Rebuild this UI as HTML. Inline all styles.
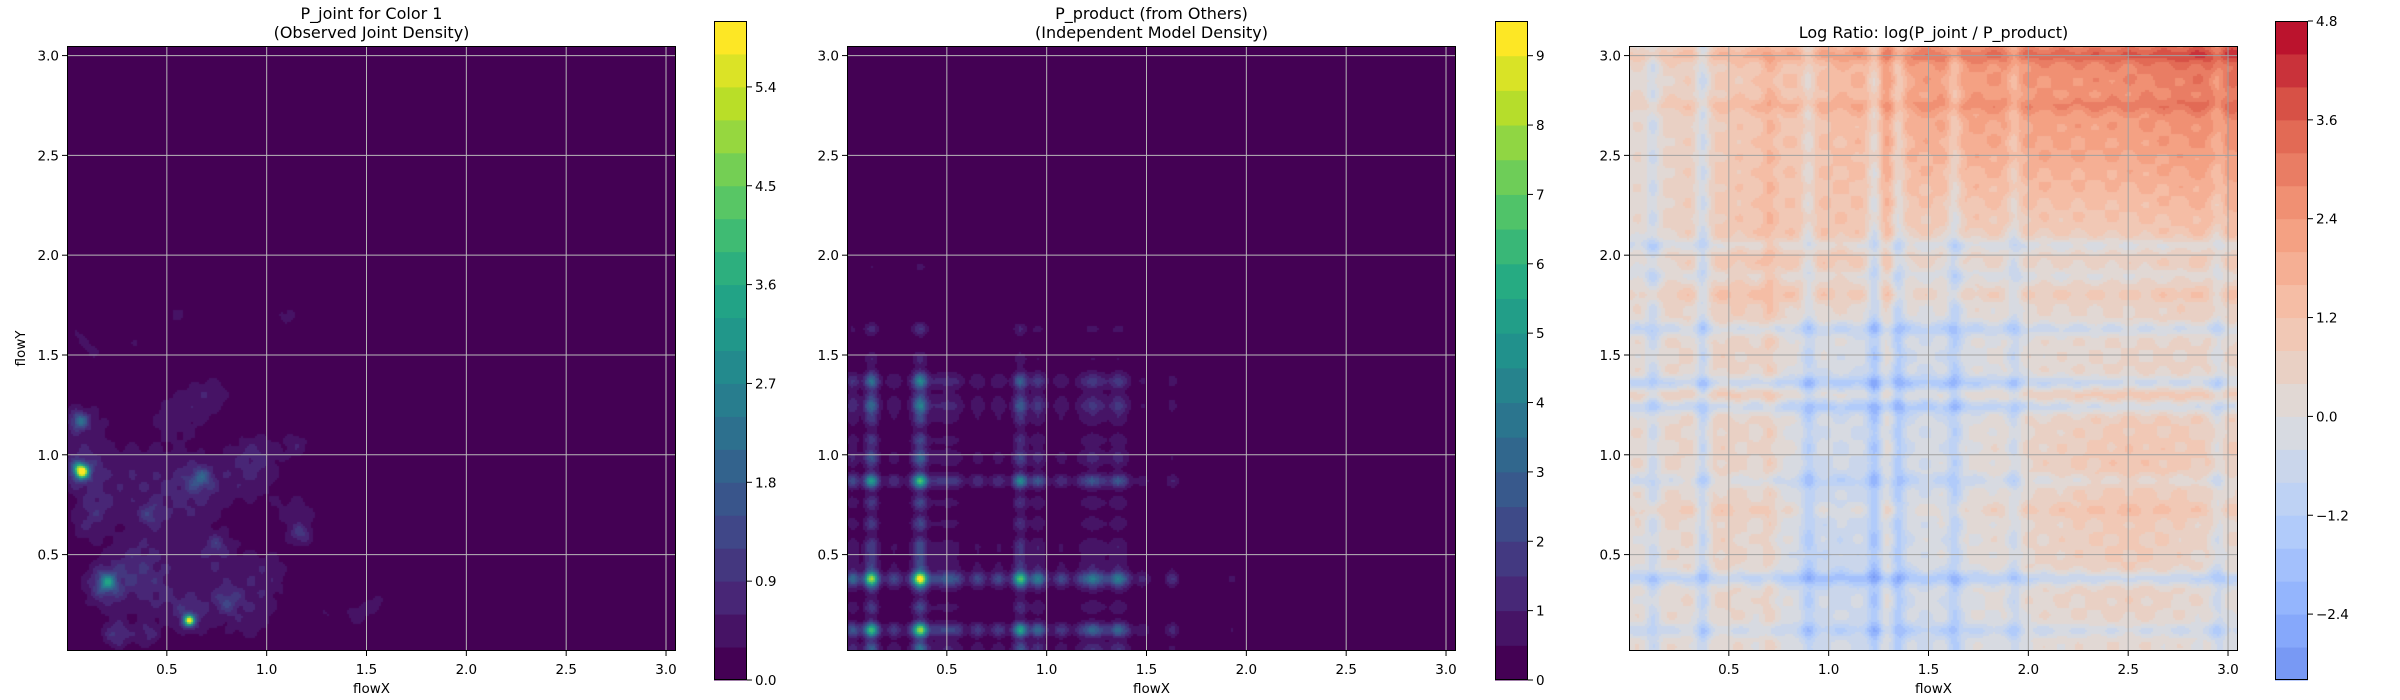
<!DOCTYPE html>
<html><head><meta charset="utf-8">
<style>
html,body{margin:0;padding:0;background:#fff;width:2400px;height:700px;overflow:hidden}
#wrap{position:relative;width:2400px;height:700px}
canvas{position:absolute}
svg{position:absolute;left:0;top:0}
text{font-family:"DejaVu Sans","Liberation Sans",sans-serif;fill:#000}
</style></head><body>
<div id="wrap">
<canvas id="c1"></canvas>
<canvas id="c2"></canvas>
<canvas id="c3"></canvas>
<svg id="ov" width="2400" height="700"></svg>
</div>
<script>
// ---------- data ----------
const xTicks=[0.5,1.0,1.5,2.0,2.5,3.0];
const yTicks=[0.5,1.0,1.5,2.0,2.5,3.0];
const tickLabels=["0.5","1.0","1.5","2.0","2.5","3.0"];
// panel 1 joint density blobs: x, y, amplitude, sigma
const jointBlobX=[0.07,0.07,0.06,0.08,0.20,0.20,0.61,0.62,0.67,0.62,0.25,0.40,1.15,1.17,1.15,0.42,0.30,0.80,0.75,0.75,1.45,1.55,1.30,0.55,0.90,0.90,0.10,0.12,0.35,0.55,1.10,0.35,0.05,1.00,0.45,0.72,0.15,0.95,0.50];
const jointBlobY=[0.92,0.92,1.17,1.15,0.36,0.34,0.17,0.20,0.88,0.85,0.10,0.10,1.05,0.60,0.70,0.70,0.90,0.27,0.45,0.55,0.20,0.25,0.20,1.20,0.90,0.20,0.65,1.52,1.55,1.70,1.70,0.45,1.60,0.40,0.30,1.30,0.75,1.00,0.60];
const jointBlobAmp=[5.4,1.0,1.6,0.5,2.0,0.8,4.3,0.8,1.2,0.6,0.9,0.7,0.5,0.8,0.4,0.7,0.45,0.8,0.4,0.6,0.45,0.4,0.3,0.45,0.45,0.5,0.45,0.35,0.3,0.35,0.4,0.5,0.3,0.45,0.5,0.45,0.45,0.45,0.35];
const jointBlobSig=[0.025,0.07,0.03,0.09,0.035,0.09,0.02,0.07,0.04,0.11,0.05,0.045,0.05,0.035,0.10,0.04,0.14,0.045,0.11,0.035,0.045,0.045,0.045,0.10,0.11,0.11,0.07,0.045,0.045,0.045,0.045,0.09,0.04,0.09,0.09,0.08,0.06,0.08,0.20];
const jointLevels=[0,0.3,0.6,0.9,1.2,1.5,1.8,2.1,2.4,2.7,3.0,3.3,3.6,3.9,4.2,4.5,4.8,5.1,5.4,5.7,6.0];
const jointCbTicks=[0,0.9,1.8,2.7,3.6,4.5,5.4];
const jointCbLabels=["0.0","0.9","1.8","2.7","3.6","4.5","5.4"];
// panel 2 marginals (spikes): position, amplitude
const margXPos=[0.03,0.12,0.37,0.50,0.87,0.95,1.23,1.35,1.63,1.93];
const margXAmp=[0.4,1.9,2.7,0.6,1.5,0.7,1.0,0.9,0.5,0.2];
const margYPos=[0.03,0.12,0.38,0.50,0.87,1.00,1.24,1.36,1.63,1.94];
const margYAmp=[0.5,1.9,2.8,0.4,1.4,0.5,1.0,0.9,0.5,0.2];
const productLevels=[0,0.5,1,1.5,2,2.5,3,3.5,4,4.5,5,5.5,6,6.5,7,7.5,8,8.5,9,9.5];
const productCbTicks=[0,1,2,3,4,5,6,7,8,9];
const productCbLabels=["0","1","2","3","4","5","6","7","8","9"];
// panel 3 log ratio: coarse base grid (rows y=0..3 step .5, cols x=0..3 step .5)
const ratioBase=[
 [0.2,0.3,-0.3,-0.4,0.1,0.3,0.0],
 [0.1,0.6,-0.7,-0.2,0.4,0.9,0.3],
 [0.3,0.6,-0.4,-0.3,0.5,1.1,0.8],
 [0.2,0.6,-0.2,-0.4,0.2,0.4,0.5],
 [0.2,1.0,1.1,0.5,0.5,0.6,1.0],
 [0.2,1.0,1.2,1.7,1.9,2.0,2.4],
 [0.3,0.9,1.4,2.4,2.6,2.9,3.5]];
const ratioColPos=[0.12,0.37,0.90,1.23,1.35,1.29,1.63,1.93,2.95,0.70];
const ratioColAmp=[-0.8,-1.2,-0.9,-1.2,-1.0,0.5,-1.0,-0.8,-0.7,0.5];
const ratioRowPos=[0.12,0.38,0.87,1.24,1.36,1.63,2.05,1.90,2.75,3.00,1.80,0.72,1.30];
const ratioRowAmp=[-0.7,-1.2,-0.6,-1.0,-1.1,-0.9,-0.8,-0.5,0.5,0.7,0.4,0.4,0.4];
const ratioLevels=[-3.2,-2.8,-2.4,-2.0,-1.6,-1.2,-0.8,-0.4,0.0,0.4,0.8,1.2,1.6,2.0,2.4,2.8,3.2,3.6,4.0,4.4,4.8];
const ratioCbTicks=[-2.4,-1.2,0,1.2,2.4,3.6,4.8];
const ratioCbLabels=["\u22122.4","\u22121.2","0.0","1.2","2.4","3.6","4.8"];

// ---------- layout ----------
const PW=609,PH=605,TOP=46,CBT=21,CBB=680,CBW=33;
const panels=[
 {id:'c1',left:67,cb:714,t1:"P_joint for Color 1",t2:"(Observed Joint Density)",ylab:true},
 {id:'c2',left:847,cb:1495,t1:"P_product (from Others)",t2:"(Independent Model Density)",ylab:false},
 {id:'c3',left:1629,cb:2275,t1:"Log Ratio: log(P_joint / P_product)",t2:null,ylab:false}];
const XD=[0.0,3.05],YD=[0.017,3.048];
function sx(p,v){return p.left+(v-XD[0])/(XD[1]-XD[0])*PW;}
function sy(v){return TOP+PH-(v-YD[0])/(YD[1]-YD[0])*PH;}

// ---------- colormaps ----------
const VIR=[[68,1,84],[72,36,117],[65,68,135],[53,95,141],[42,120,142],[33,145,140],[34,168,132],[68,191,112],[122,209,81],[189,223,38],[253,231,37]];
const CW=[[58,76,192],[98,130,234],[141,176,254],[184,208,249],[221,220,220],[245,196,173],[244,154,123],[222,96,77],[180,4,38]];
function cmap(st,t){t=Math.max(0,Math.min(1,t));const n=st.length-1,f=t*n,i=Math.min(n-1,Math.floor(f)),r=f-i;
 return st[i].map((c,k)=>Math.round(c+(st[i+1][k]-c)*r));}
function bandIndex(levels,v){let k=0;for(let i=1;i<levels.length-1;i++){if(v>=levels[i])k=i;}return k;}
function rgb(c){return 'rgb('+c.join(',')+')';}
const jointColors=jointLevels.slice(0,-1).map((l,i,a)=>cmap(VIR,i/(a.length-1)));
const productColors=productLevels.slice(0,-1).map((l,i,a)=>cmap(VIR,i/(a.length-1)));
const ratioColors=ratioLevels.slice(0,-1).map((l,i)=>cmap(CW,((l+ratioLevels[i+1])/2+4.8)/9.6));

// ---------- fields ----------
function g(d,s){return Math.exp(-d*d/(2*s*s));}
function joint(x,y){let v=0;for(let i=0;i<jointBlobX.length;i++){const s=jointBlobSig[i],dx=x-jointBlobX[i],dy=y-jointBlobY[i];v+=jointBlobAmp[i]*Math.exp(-(dx*dx+dy*dy)/(2*s*s));}
 v*=1+0.25*Math.sin(x*53)*Math.sin(y*47);return v;}
function marg(pos,amp,v){let m=0;for(let i=0;i<pos.length;i++)m+=amp[i]*g(v-pos[i],0.024);
 m+=(0.5+0.2*Math.sin(v*60))*(v<1.4?1:g(v-1.4,0.08));return m;}
function product(x,y){return marg(margXPos,margXAmp,x)*marg(margYPos,margYAmp,y);}
function ratio(x,y){
 const fx=Math.max(0,Math.min(5.999,x/0.5)),fy=Math.max(0,Math.min(5.999,y/0.5));
 const i=Math.floor(fx),j=Math.floor(fy),rx=fx-i,ry=fy-j;
 let v=ratioBase[j][i]*(1-rx)*(1-ry)+ratioBase[j][i+1]*rx*(1-ry)+ratioBase[j+1][i]*(1-rx)*ry+ratioBase[j+1][i+1]*rx*ry;
 for(let k=0;k<ratioColPos.length;k++)v+=ratioColAmp[k]*g(x-ratioColPos[k],0.025);
 for(let k=0;k<ratioRowPos.length;k++)v+=ratioRowAmp[k]*g(y-ratioRowPos[k],0.025);
 v+=0.25*Math.sin(x*37)*Math.sin(y*41);
 return v;}

function paint(p,fn,levels,colors){
 const c=document.getElementById(p.id);c.width=PW;c.height=PH;
 c.style.left=p.left+'px';c.style.top=TOP+'px';
 const ctx=c.getContext('2d'),im=ctx.createImageData(PW,PH),d=im.data;
 for(let py=0;py<PH;py+=2){const y=YD[1]-(py+1)/PH*(YD[1]-YD[0]);
  for(let px=0;px<PW;px+=2){const x=XD[0]+(px+1)/PW*(XD[1]-XD[0]);
   const col=colors[bandIndex(levels,fn(x,y))];
   for(let a=0;a<2;a++)for(let b=0;b<2;b++){const X=px+b,Y=py+a;if(X>=PW||Y>=PH)continue;const o=(Y*PW+X)*4;d[o]=col[0];d[o+1]=col[1];d[o+2]=col[2];d[o+3]=255;}
  }}
 ctx.putImageData(im,0,0);}
paint(panels[0],joint,jointLevels,jointColors);
paint(panels[1],product,productLevels,productColors);
paint(panels[2],ratio,ratioLevels,ratioColors);

// ---------- overlay ----------
const NS='http://www.w3.org/2000/svg',ov=document.getElementById('ov');
function el(tag,attrs,parent,txt){const e=document.createElementNS(NS,tag);for(const k in attrs)e.setAttribute(k,attrs[k]);if(txt!=null)e.textContent=txt;(parent||ov).appendChild(e);return e;}
const cbLev=[jointLevels,productLevels,ratioLevels],cbCol=[jointColors,productColors,ratioColors];
const cbT=[jointCbTicks,productCbTicks,ratioCbTicks],cbL=[jointCbLabels,productCbLabels,ratioCbLabels];
panels.forEach((p,pi)=>{
 const grp=el('g',{});
 
 
 const gc=pi==2?'#a0a0a0':'#b8b8b8';
 xTicks.forEach((t,i)=>{const X=sx(p,t);
  const gl=el('line',{x1:X,x2:X,y1:TOP,y2:TOP+PH,stroke:gc,'stroke-width':1},grp);
  
  el('line',{x1:X,x2:X,y1:TOP+PH,y2:TOP+PH+5,stroke:'#000','stroke-width':1},grp);
  const tl=el('text',{x:X,y:TOP+PH+23,'font-size':13.5,'text-anchor':'middle'},grp,tickLabels[i]);
  });
 yTicks.forEach((t,i)=>{const Y=sy(t);
  const gl=el('line',{x1:p.left,x2:p.left+PW,y1:Y,y2:Y,stroke:gc,'stroke-width':1},grp);
  
  el('line',{x1:p.left-5,x2:p.left,y1:Y,y2:Y,stroke:'#000','stroke-width':1},grp);
  const tl=el('text',{x:p.left-8,y:Y+5,'font-size':13.5,'text-anchor':'end'},grp,tickLabels[i]);
  });
 const fr=el('rect',{x:p.left+0.5,y:TOP+0.5,width:PW-1,height:PH-1,fill:'none',stroke:'#000','stroke-width':1},grp);
 
 const cx=p.left+PW/2;
 if(p.t2){const a=el('text',{x:cx,y:19,'font-size':16,'text-anchor':'middle'},grp,p.t1);
  const b=el('text',{x:cx,y:38,'font-size':16,'text-anchor':'middle'},grp,p.t2);}
 else{const a=el('text',{x:cx,y:38,'font-size':16,'text-anchor':'middle'},grp,p.t1);}
 const xl=el('text',{x:cx,y:693,'font-size':13.5,'text-anchor':'middle'},grp,'flowX');
 
 if(p.ylab){const yl=el('text',{x:0,y:0,'font-size':13.5,'text-anchor':'middle',transform:'translate(25,'+(TOP+PH/2)+') rotate(-90)'},grp,'flowY');
  }
 // colorbar
 const lv=cbLev[pi],cols=cbCol[pi],lo=lv[0],hi=lv[lv.length-1];
 const cy=v=>CBB-(v-lo)/(hi-lo)*(CBB-CBT);
 const cb=el('g',{},grp);
 for(let i=0;i<lv.length-1;i++){const r=el('rect',{x:p.cb,y:cy(lv[i+1]),width:CBW,height:cy(lv[i])-cy(lv[i+1])+0.5,fill:rgb(cols[i])},cb);
  }
 el('rect',{x:p.cb+0.5,y:CBT+0.5,width:CBW-1,height:CBB-CBT-1,fill:'none',stroke:'#000','stroke-width':1},cb);
 cbT[pi].forEach((t,i)=>{const Y=cy(t);
  el('line',{x1:p.cb+CBW,x2:p.cb+CBW+5,y1:Y,y2:Y,stroke:'#000','stroke-width':1},cb);
  const tl=el('text',{x:p.cb+CBW+8,y:Y+5,'font-size':13.5},cb,cbL[pi][i]);
  });
});
</script>
</body></html>
